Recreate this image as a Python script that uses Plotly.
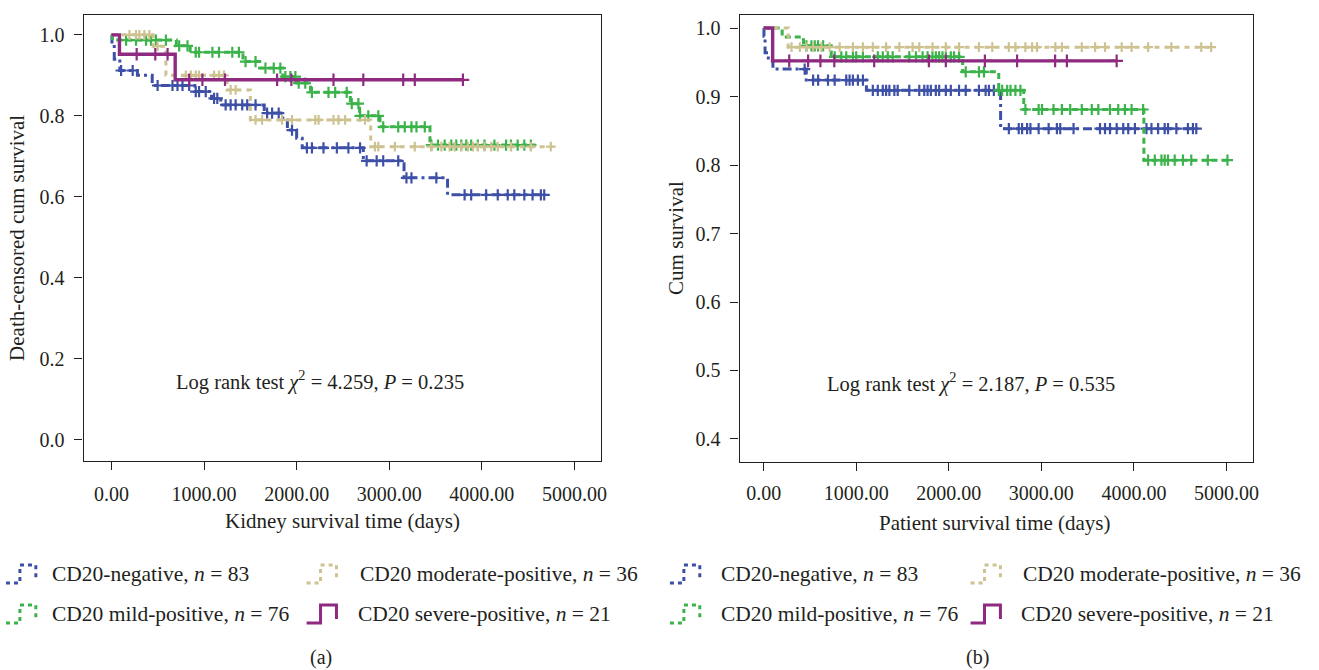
import numpy as np
import plotly.graph_objects as go

W, H = 1319, 670
FONT = "Liberation Serif"
TXT = "#231f20"

# ---------------- data : panel (a) kidney survival ----------------
series_names = ["CD20-negative", "CD20 mild-positive", "CD20 moderate-positive", "CD20 severe-positive"]
series_n = [83, 76, 36, 21]
colors = ["#3d50a6", "#3bb34a", "#cdc290", "#8e2a80"]
dashes = ["9px,4px,3px,4px", "6px,4px", "5px,5px", "solid"]
mark_sizes = [8, 8, 7, 9]

a_neg_t = [0, 5, 30, 90, 280, 440, 900, 1080, 1180, 1650, 1850, 1900, 2000, 2060, 2720, 3160, 3630]
a_neg_s = [1.0, 0.976, 0.94, 0.912, 0.90, 0.875, 0.86, 0.843, 0.827, 0.807, 0.79, 0.765, 0.745, 0.721, 0.689, 0.647, 0.605]
a_neg_end = 4674
a_neg_c = [104, 229, 498, 659, 713, 767, 839, 910, 946, 1018, 1108, 1143, 1233, 1287, 1341, 1412, 1466, 1556,
           1681, 1735, 1806, 1950, 2111, 2165, 2290, 2434, 2559, 2685, 2756, 2864, 2935, 3097, 3186, 3240,
           3509, 3814, 3885, 4047, 4172, 4280, 4351, 4459, 4548, 4638, 4674]

a_mild_t = [0, 10, 700, 850, 1420, 1600, 1850, 2000, 2150, 2580, 2680, 2900, 3440]
a_mild_s = [1.0, 0.987, 0.973, 0.957, 0.934, 0.918, 0.897, 0.881, 0.858, 0.83, 0.80, 0.773, 0.728]
a_mild_end = 4580
a_mild_c = [158, 265, 373, 427, 480, 588, 731, 821, 910, 946, 1090, 1161, 1305, 1376, 1448, 1556, 1663, 1753,
            1824, 1878, 1932, 1986, 2022, 2093, 2165, 2344, 2416, 2541, 2595, 2667, 2685, 2774, 2882, 2935,
            3097, 3168, 3240, 3294, 3384, 3455, 3527, 3599, 3670, 3724, 3778, 3832, 3885, 3957, 4029, 4136,
            4262, 4315, 4387, 4459, 4530]

a_mod_t = [0, 450, 588, 1250, 1500, 2800]
a_mod_s = [1.0, 0.972, 0.90, 0.864, 0.79, 0.724]
a_mod_end = 4760
a_mod_c = [194, 265, 301, 355, 409, 498, 803, 857, 910, 946, 1108, 1161, 1215, 1287, 1341, 1556, 1627, 1842,
           1950, 2201, 2237, 2398, 2452, 2523, 2738, 2846, 2882, 3061, 3276, 3455, 3563, 3652, 3706, 3778,
           3849, 3903, 3957, 4029, 4101, 4172, 4315, 4530, 4745]

a_sev_t = [0, 86, 688]
a_sev_s = [1.0, 0.952, 0.889]
a_sev_end = 3800
a_sev_c = [272, 473, 606, 839, 982, 1226, 1789, 1943, 2398, 2720, 3151, 3276, 3796]

# ---------------- data : panel (b) patient survival ----------------
b_neg_t = [0, 3, 15, 50, 100, 460, 1110, 2560]
b_neg_s = [1.0, 0.988, 0.964, 0.952, 0.94, 0.924, 0.909, 0.853]
b_neg_end = 4674
b_neg_c = [443, 534, 588, 695, 767, 892, 928, 964, 1018, 1072, 1179, 1233, 1287, 1323, 1358, 1412, 1448,
           1573, 1681, 1735, 1771, 1806, 1860, 1896, 1968, 2022, 2111, 2183, 2326, 2398, 2434, 2487,
           2649, 2756, 2792, 2846, 2882, 2971, 3079, 3168, 3204, 3348, 3634, 3688, 3742, 3814, 3885,
           3939, 4011, 4136, 4190, 4262, 4333, 4369, 4459, 4584, 4638, 4674]

b_mild_t = [0, 200, 430, 730, 2150, 2540, 2810, 4108]
b_mild_s = [1.0, 0.987, 0.974, 0.958, 0.936, 0.909, 0.881, 0.807]
b_mild_end = 5011
b_mild_c = [462, 516, 552, 588, 642, 767, 839, 892, 964, 1000, 1072, 1233, 1287, 1341, 1394, 1573, 1645,
            1717, 1771, 1824, 1860, 1896, 1932, 1968, 2022, 2057, 2111, 2183, 2326, 2380, 2541, 2577,
            2631, 2667, 2720, 2774, 2828, 2971, 3007, 3132, 3222, 3312, 3437, 3545, 3616, 3742, 3831,
            3903, 3975, 4100, 4154, 4226, 4298, 4333, 4369, 4441, 4530, 4620, 4799, 5011]

b_mod_t = [0, 265]
b_mod_s = [1.0, 0.972]
b_mod_end = 4835
b_mod_c = [301, 391, 462, 534, 624, 713, 821, 964, 1072, 1179, 1323, 1466, 1609, 1681, 1824, 1968, 2111,
           2326, 2470, 2649, 2720, 2828, 2900, 2953, 3151, 3222, 3437, 3581, 3688, 3868, 3975, 4154,
           4405, 4728, 4835]

b_sev_t = [0, 97]
b_sev_s = [1.0, 0.952]
b_sev_end = 3814
b_sev_c = [276, 480, 613, 763, 1194, 1785, 1968, 2390, 2738, 3149, 3276, 3814]

x_ticks = [0, 1000, 2000, 3000, 4000, 5000]
x_ticktext = ["0.00", "1000.00", "2000.00", "3000.00", "4000.00", "5000.00"]
ya_ticks = [0.0, 0.2, 0.4, 0.6, 0.8, 1.0]
yb_ticks = [0.4, 0.5, 0.6, 0.7, 0.8, 0.9, 1.0]

log_rank = [("4.259", "0.235"), ("2.187", "0.535")]
x_titles = ["Kidney survival time (days)", "Patient survival time (days)"]
y_titles = ["Death-censored cum survival", "Cum survival"]
captions = ["(a)", "(b)"]

panel_a = [(a_neg_t, a_neg_s, a_neg_end, a_neg_c), (a_mild_t, a_mild_s, a_mild_end, a_mild_c),
           (a_mod_t, a_mod_s, a_mod_end, a_mod_c), (a_sev_t, a_sev_s, a_sev_end, a_sev_c)]
panel_b = [(b_neg_t, b_neg_s, b_neg_end, b_neg_c), (b_mild_t, b_mild_s, b_mild_end, b_mild_c),
           (b_mod_t, b_mod_s, b_mod_end, b_mod_c), (b_sev_t, b_sev_s, b_sev_end, b_sev_c)]


def step_value(t, s, x):
    idx = np.searchsorted(np.asarray(t), np.asarray(x), side="right") - 1
    return np.asarray(s)[np.clip(idx, 0, len(s) - 1)]


def px(x):
    return x / W


def py(y):
    return 1 - y / H


fig = go.Figure()

for pi, panel in enumerate([panel_a, panel_b]):
    xa = "x" if pi == 0 else "x2"
    ya = "y" if pi == 0 else "y2"
    for si, (t, s, end, cens) in enumerate(panel):
        xs = list(t) + [end]
        ys = list(s) + [s[-1]]
        fig.add_trace(go.Scatter(
            x=xs, y=ys, mode="lines",
            line=dict(shape="hv", color=colors[si], width=(3.4 if si == 3 else 3), dash=dashes[si]),
            xaxis=xa, yaxis=ya, showlegend=False, hoverinfo="skip"))
        fig.add_trace(go.Scatter(
            x=cens, y=step_value(t, s, cens), mode="markers",
            marker=dict(symbol="cross-thin", size=mark_sizes[si], line=dict(color=colors[si], width=2.2)),
            xaxis=xa, yaxis=ya, showlegend=False, hoverinfo="skip"))

axis_common = dict(showline=True, mirror=True, linecolor=TXT, linewidth=1.3, ticks="outside", ticklen=8,
                   tickcolor=TXT, tickwidth=1.3, showgrid=False, zeroline=False,
                   tickfont=dict(family=FONT, size=20, color=TXT))

fig.update_layout(
    width=W, height=H, margin=dict(l=0, r=0, t=0, b=0),
    paper_bgcolor="white", plot_bgcolor="white", showlegend=False,
    xaxis=dict(domain=[px(84), px(604)], range=[-301, 5290], tickvals=x_ticks, ticktext=x_ticktext,
               anchor="y", ticklabelstandoff=7, **axis_common),
    yaxis=dict(domain=[py(461), py(15)], range=[-0.052, 1.049], tickvals=ya_ticks,
               ticktext=[f"{v:.1f}" for v in ya_ticks], anchor="x", ticklabelstandoff=6, **axis_common),
    xaxis2=dict(domain=[px(743), px(1259)], range=[-260, 5290], tickvals=x_ticks, ticktext=x_ticktext,
                anchor="y2", ticklabelstandoff=5, **axis_common),
    yaxis2=dict(domain=[py(462), py(15)], range=[0.3664, 1.019], tickvals=yb_ticks,
                ticktext=[f"{v:.1f}" for v in yb_ticks], anchor="x2", ticklabelstandoff=6, **axis_common),
)

annots = []
# axis titles
for cx, cy, txt in [(344, 521, x_titles[0]), (1000, 523, x_titles[1])]:
    annots.append(dict(x=px(cx), y=py(cy), xref="paper", yref="paper", text=txt, showarrow=False,
                       xanchor="center", yanchor="middle", font=dict(family=FONT, size=21, color=TXT)))
for cx, cy, txt in [(17, 238, y_titles[0]), (679, 238, y_titles[1])]:
    annots.append(dict(x=px(cx), y=py(cy), xref="paper", yref="paper", text=txt, showarrow=False,
                       textangle=-90, xanchor="center", yanchor="middle",
                       font=dict(family=FONT, size=21, color=TXT)))
# log-rank text
for (chi, p), cx, cy in zip(log_rank, [321, 975], [380, 382]):
    annots.append(dict(x=px(cx), y=py(cy), xref="paper", yref="paper",
                       text=f"Log rank test <i>χ</i><sup>2</sup> = {chi}, <i>P</i> = {p}", showarrow=False,
                       xanchor="center", yanchor="middle", font=dict(family=FONT, size=20.5, color=TXT)))
# captions
for cx, txt in [(322, captions[0]), (982, captions[1])]:
    annots.append(dict(x=px(cx), y=py(657), xref="paper", yref="paper", text=txt, showarrow=False,
                       xanchor="center", yanchor="middle", font=dict(family=FONT, size=20, color=TXT)))

# custom legends (icon + label), two per panel
shapes = []
legend_slots = [  # (series index, icon left, text left, row y) for each panel
    [(0, 6, 50, 574), (2, 308, 360, 574), (1, 6, 50, 614), (3, 308, 358, 614)],
    [(0, 673, 722, 574), (2, 975, 1026, 574), (1, 673, 722, 614), (3, 975, 1024, 614)],
]
for slots in legend_slots:
    for si, ix, tx, ry in slots:
        x0, x1, x2 = ix, ix + 14, ix + 30
        yb, yt = ry + 9, ry - 9
        path = (f"M {px(x0)},{py(yb)} L {px(x1)},{py(yb)} L {px(x1)},{py(yt)} "
                f"L {px(x2)},{py(yt)} L {px(x2)},{py(yb - 4)}")
        shapes.append(dict(type="path", path=path, xref="paper", yref="paper",
                           line=dict(color=colors[si], width=3, dash=("solid" if si == 3 else "4px,4px"))))
        annots.append(dict(x=px(tx), y=py(ry), xref="paper", yref="paper",
                           text=f"{series_names[si]}, <i>n</i> = {series_n[si]}", showarrow=False,
                           xanchor="left", yanchor="middle", font=dict(family=FONT, size=21.5, color=TXT)))

fig.update_layout(annotations=annots, shapes=shapes)
fig.write_html("out.html", config={"displayModeBar": False},
               post_script="document.body.style.margin='0px';")
